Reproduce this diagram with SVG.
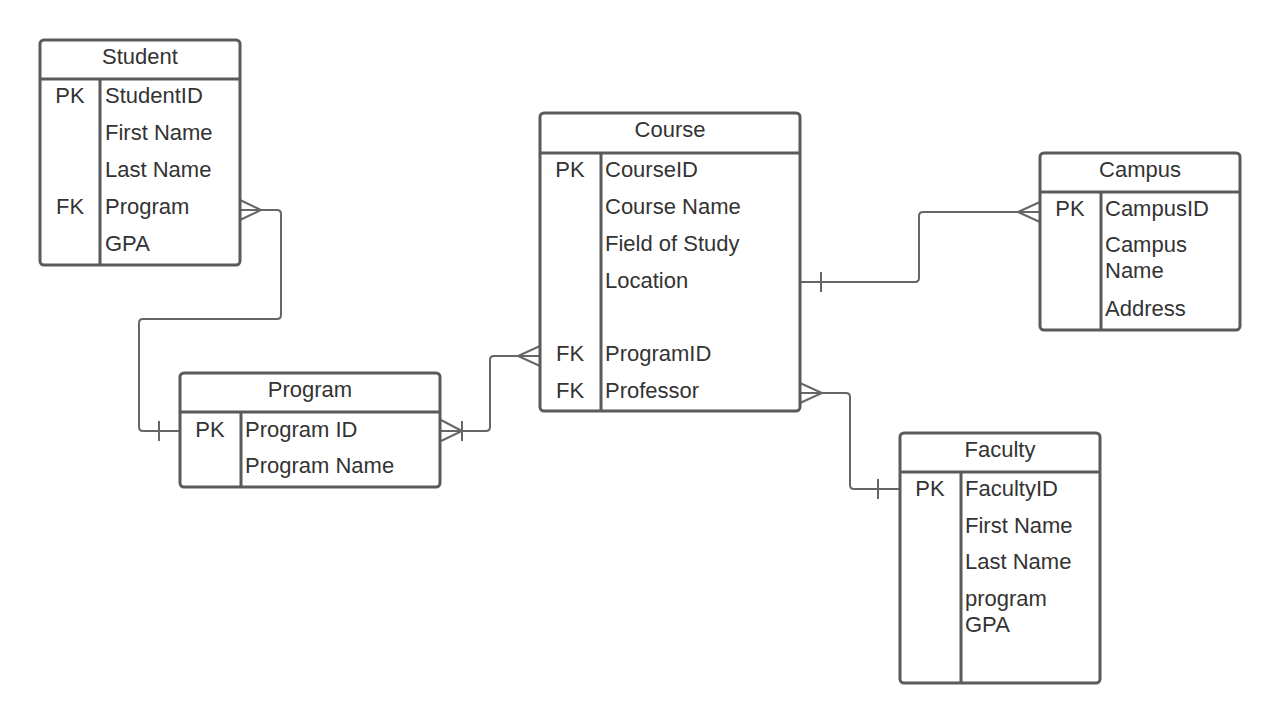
<svg xmlns="http://www.w3.org/2000/svg" width="1280" height="724" viewBox="0 0 1280 724">
<style>
.box{fill:#fff;stroke:#5a5a5a;stroke-width:3}
.ln{stroke:#5a5a5a;stroke-width:3;fill:none}
.cn{stroke:#666;stroke-width:2;fill:none}
text{font-family:"Liberation Sans",Arial,sans-serif;font-size:22px;fill:#333}
.h{text-anchor:middle}
.k{text-anchor:middle}
</style>
<rect width="1280" height="724" fill="#fff"/>
<g id="connectors">
<path class="cn" d="M240 210 H277 Q281 210 281 214 V315 Q281 319 277 319 H143 Q139 319 139 323 V427 Q139 431 143 431 H180"/>
<path class="cn" d="M240 200 L261 210 L240 220 M159 421 V441"/>
<path class="cn" d="M440 431 H486 Q490 431 490 427 V360 Q490 356 494 356 H540"/>
<path class="cn" d="M441 420 L462 431 L441 441 M462 421 V441 M540 346 L518 356 L540 366"/>
<path class="cn" d="M800 282 H915 Q919 282 919 278 V216 Q919 212 923 212 H1040"/>
<path class="cn" d="M821 272 V292 M1040 202 L1018 212 L1040 222"/>
<path class="cn" d="M800 393 H846 Q850 393 850 397 V485 Q850 489 854 489 H900"/>
<path class="cn" d="M800 383 L822 393 L800 403 M878 479 V499"/>
</g>
<g id="student">
<rect class="box" x="40" y="40" width="200" height="225" rx="4"/>
<path class="ln" d="M40 79 H240 M100 79 V265"/>
<text class="h" x="140" y="64">Student</text>
<text class="k" x="70" y="103">PK</text><text x="105" y="103">StudentID</text>
<text x="105" y="140">First Name</text>
<text x="105" y="177">Last Name</text>
<text class="k" x="70" y="214">FK</text><text x="105" y="214">Program</text>
<text x="105" y="251">GPA</text>
</g>
<g id="program">
<rect class="box" x="180" y="373" width="260" height="114" rx="4"/>
<path class="ln" d="M180 412 H440 M241 412 V487"/>
<text class="h" x="310" y="397">Program</text>
<text class="k" x="210" y="437">PK</text><text x="245" y="437">Program ID</text>
<text x="245" y="473">Program Name</text>
</g>
<g id="course">
<rect class="box" x="540" y="113" width="260" height="298" rx="4"/>
<path class="ln" d="M540 153 H800 M601 153 V411"/>
<text class="h" x="670" y="137">Course</text>
<text class="k" x="570" y="177">PK</text><text x="605" y="177">CourseID</text>
<text x="605" y="214">Course Name</text>
<text x="605" y="251">Field of Study</text>
<text x="605" y="288">Location</text>
<text class="k" x="570" y="361">FK</text><text x="605" y="361">ProgramID</text>
<text class="k" x="570" y="398">FK</text><text x="605" y="398">Professor</text>
</g>
<g id="campus">
<rect class="box" x="1040" y="153" width="200" height="177" rx="4"/>
<path class="ln" d="M1040 192 H1240 M1101 192 V330"/>
<text class="h" x="1140" y="177">Campus</text>
<text class="k" x="1070" y="216">PK</text><text x="1105" y="216">CampusID</text>
<text x="1105" y="252">Campus</text>
<text x="1105" y="278">Name</text>
<text x="1105" y="316">Address</text>
</g>
<g id="faculty">
<rect class="box" x="900" y="433" width="200" height="250" rx="4"/>
<path class="ln" d="M900 472 H1100 M961 472 V683"/>
<text class="h" x="1000" y="457">Faculty</text>
<text class="k" x="930" y="496">PK</text><text x="965" y="496">FacultyID</text>
<text x="965" y="533">First Name</text>
<text x="965" y="569">Last Name</text>
<text x="965" y="606">program</text>
<text x="965" y="632">GPA</text>
</g>
</svg>
